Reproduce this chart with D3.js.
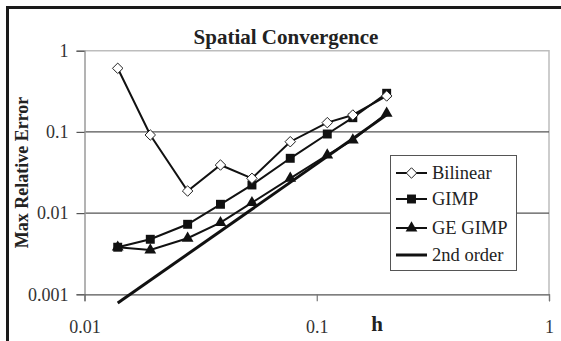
<!DOCTYPE html>
<html>
<head>
<meta charset="utf-8">
<script src="https://cdn.jsdelivr.net/npm/d3@7"></script>
<style>
  html, body { margin: 0; padding: 0; background: #fff; }
  svg { display: block; }
</style>
</head>
<body>
<svg id="chart" width="561" height="341"></svg>
<script>
// Grid spacing h for each run
const hValues = [0.0139, 0.0192, 0.0278, 0.0385, 0.0526, 0.0769, 0.111, 0.143, 0.2];

// Max relative error per method
const bilinear = [0.607, 0.0916, 0.0187, 0.0391, 0.0268, 0.0757, 0.130, 0.1615, 0.277];
const gimp     = [0.0038, 0.00476, 0.00728, 0.01284, 0.0222, 0.0473, 0.0942, 0.1496, 0.299];
const geGimp   = [0.0038, 0.00351, 0.0049, 0.00762, 0.01343, 0.0268, 0.0519, 0.0795, 0.1694];

// Reference slope-2 line endpoints
const orderH   = [0.0139, 0.2];
const orderErr = [0.00078, 0.162];

const xTicks = [0.01, 0.1, 1];
const xTickLabels = ["0.01", "0.1", "1"];
const yTicks = [0.001, 0.01, 0.1, 1];
const yTickLabels = ["0.001", "0.01", "0.1", "1"];

const legendNames = ["Bilinear", "GIMP", "GE GIMP", "2nd order"];

const SERIF = "'Liberation Serif', 'Times New Roman', 'DejaVu Serif', serif";

const svg = d3.select("#chart");
const plot = { left: 84.5, right: 549, top: 50.7, bottom: 294.3 };

const x = d3.scaleLog().domain([0.01, 1]).range([plot.left, plot.right]);
const y = d3.scaleLog().domain([0.001, 1]).range([plot.bottom, plot.top]);

// Outer frame (top and left edges)
svg.append("path")
  .attr("d", "M7.5,341 L7.5,7.5 L561,7.5")
  .attr("fill", "none")
  .attr("stroke", "#1a1a1a")
  .attr("stroke-width", 3);

// Plot frame: top and right edges light grey
svg.append("path")
  .attr("d", `M${plot.left},${plot.top} L${plot.right},${plot.top} L${plot.right},${plot.bottom}`)
  .attr("fill", "none")
  .attr("stroke", "#bdbdbd")
  .attr("stroke-width", 1.5);

// Horizontal gridlines at inner decades
svg.append("g").selectAll("line")
  .data([0.01, 0.1])
  .join("line")
  .attr("x1", plot.left).attr("x2", plot.right)
  .attr("y1", d => y(d)).attr("y2", d => y(d))
  .attr("stroke", "#555")
  .attr("stroke-width", 1.2);

// Y axis
const yAxis = d3.axisLeft(y)
  .tickValues(yTicks)
  .tickFormat((d, i) => yTickLabels[i])
  .tickSize(8)
  .tickPadding(8);
const gy = svg.append("g")
  .attr("transform", `translate(${plot.left},0)`)
  .call(yAxis)
  .attr("font-family", SERIF)
  .attr("font-size", 18);
gy.select(".domain").attr("stroke", "#9a9a9a").attr("stroke-width", 1.5);
gy.selectAll(".tick line").attr("stroke", "#555").attr("stroke-width", 1.2);
gy.selectAll(".tick text").attr("fill", "#333");

// X axis
const xAxis = d3.axisBottom(x)
  .tickValues(xTicks)
  .tickFormat((d, i) => xTickLabels[i])
  .tickSize(7)
  .tickPadding(19);
const gx = svg.append("g")
  .attr("transform", `translate(0,${plot.bottom})`)
  .call(xAxis)
  .attr("font-family", SERIF)
  .attr("font-size", 18);
gx.select(".domain").attr("stroke", "#555").attr("stroke-width", 1.2);
gx.selectAll(".tick line").attr("stroke", "#777").attr("stroke-width", 1.2);
gx.selectAll(".tick text").attr("fill", "#333");

// Titles
svg.append("text")
  .attr("x", 286).attr("y", 44)
  .attr("text-anchor", "middle")
  .attr("font-family", SERIF)
  .attr("font-size", 21)
  .attr("font-weight", "bold")
  .attr("fill", "#222")
  .text("Spatial Convergence");

svg.append("text")
  .attr("transform", `translate(28,${(plot.top + plot.bottom) / 2}) rotate(-90)`)
  .attr("text-anchor", "middle")
  .attr("font-family", SERIF)
  .attr("font-size", 18)
  .attr("font-weight", "bold")
  .attr("fill", "#222")
  .text("Max Relative Error");

svg.append("text")
  .attr("x", 377).attr("y", 331)
  .attr("text-anchor", "middle")
  .attr("font-family", SERIF)
  .attr("font-size", 21)
  .attr("font-weight", "bold")
  .attr("fill", "#222")
  .text("h");

// Series lines
const line = d3.line().x(d => x(d[0])).y(d => y(d[1]));

svg.append("path")
  .datum(orderH.map((h, i) => [h, orderErr[i]]))
  .attr("d", line)
  .attr("fill", "none")
  .attr("stroke", "#111")
  .attr("stroke-width", 3);

const series = [
  { vals: bilinear, marker: "diamond" },
  { vals: gimp, marker: "square" },
  { vals: geGimp, marker: "triangle" }
];

const markerPath = {
  diamond: d3.symbol().type(d3.symbolDiamond2).size(70)(),
  square: d3.symbol().type(d3.symbolSquare).size(80)(),
  triangle: d3.symbol().type(d3.symbolTriangle).size(60)()
};

function drawMarker(g, type, cx, cy) {
  const p = g.append("path")
    .attr("d", markerPath[type])
    .attr("transform", `translate(${cx},${cy})`);
  if (type === "diamond") {
    p.attr("fill", "#fff").attr("stroke", "#222").attr("stroke-width", 1);
  } else {
    p.attr("fill", "#111").attr("stroke", "none");
  }
}

series.forEach(s => {
  const pts = hValues.map((h, i) => [h, s.vals[i]]);
  svg.append("path")
    .datum(pts)
    .attr("d", line)
    .attr("fill", "none")
    .attr("stroke", "#111")
    .attr("stroke-width", 2);
});

series.slice().reverse().forEach(s => {
  const g = svg.append("g");
  hValues.forEach((h, i) => drawMarker(g, s.marker, x(h), y(s.vals[i])));
});

// Legend
const legend = svg.append("g");
legend.append("rect")
  .attr("x", 390.5).attr("y", 155.5)
  .attr("width", 126).attr("height", 115)
  .attr("fill", "#fff")
  .attr("stroke", "#555")
  .attr("stroke-width", 1);

const legendMarkers = ["diamond", "square", "triangle", null];
const legendRowY = [173, 199, 228, 255];
legendNames.forEach((name, i) => {
  const cy = legendRowY[i];
  legend.append("line")
    .attr("x1", 396).attr("x2", 427)
    .attr("y1", cy).attr("y2", cy)
    .attr("stroke", "#111")
    .attr("stroke-width", i === 3 ? 3 : 2);
  if (legendMarkers[i]) drawMarker(legend, legendMarkers[i], 411.5, cy);
  legend.append("text")
    .attr("x", 432).attr("y", cy + 6)
    .attr("font-family", SERIF)
    .attr("font-size", 18.5)
    .attr("fill", "#222")
    .text(name);
});
</script>
</body>
</html>
